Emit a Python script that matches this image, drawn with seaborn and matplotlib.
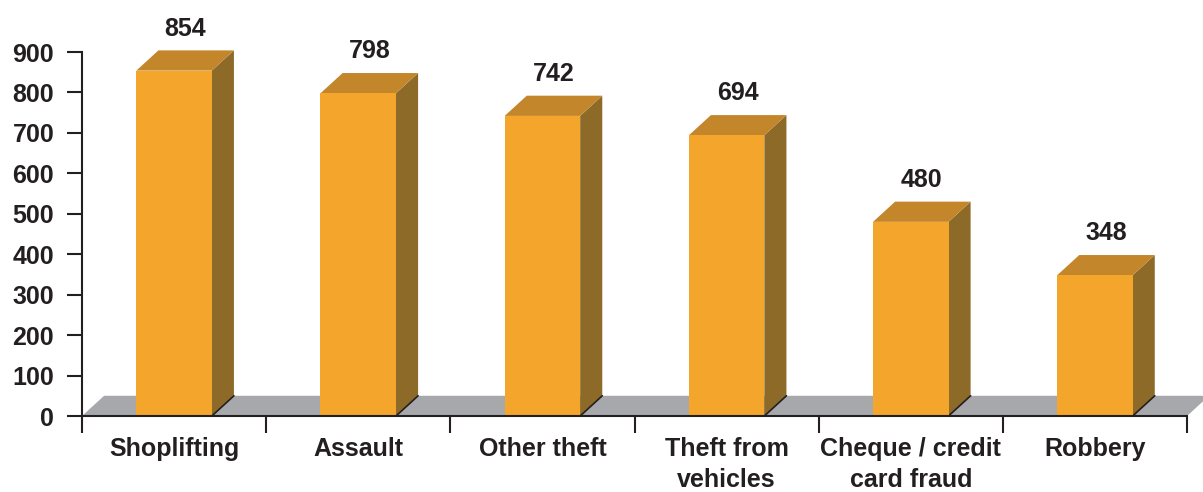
import matplotlib
matplotlib.use("Agg")
import matplotlib.pyplot as plt
from matplotlib.patches import Polygon
import seaborn as sns

categories = ["Shoplifting", "Assault", "Other theft", "Theft from\nvehicles",
              "Cheque / credit\ncard fraud", "Robbery"]
values = [854, 798, 742, 694, 480, 348]
yticks = [0, 100, 200, 300, 400, 500, 600, 700, 800, 900]

front_col = "#F4A52B"
top_col = "#C4862B"
side_col = "#8E6A28"
floor_col = "#A7A8AC"
text_col = "#231F20"

sns.set_style("white")
plt.rcParams["font.family"] = ["Liberation Sans", "DejaVu Sans"]
plt.rcParams["font.weight"] = "bold"

fig = plt.figure(figsize=(12.03, 4.92), dpi=100)
ax = fig.add_axes([82 / 1203, 1 - 416 / 492, (1187 - 82) / 1203, (416 - 52) / 492])

sns.barplot(x=categories, y=values, color=front_col, saturation=1, width=0.41,
            ax=ax, zorder=3, linewidth=0)

ax.set_xlim(-0.5, len(categories) - 0.5)
ax.set_ylim(0, 900)

# depth of the fake 3d effect (data units)
dx = 0.12
dy = 50

# floor
floor = Polygon([(-0.5, 0), (len(categories) - 0.5, 0),
                 (len(categories) - 0.5 + dx, dy), (-0.5 + dx, dy)],
                closed=True, facecolor=floor_col, edgecolor="none", zorder=1, clip_on=False)
ax.add_patch(floor)

for p, v in zip(ax.patches[:len(values)], values):
    x0 = p.get_x()
    w = p.get_width()
    h = p.get_height()
    x1 = x0 + w
    side = Polygon([(x1, 0), (x1 + dx, dy), (x1 + dx, h + dy), (x1, h)],
                   closed=True, facecolor=side_col, edgecolor="none", zorder=2.5, clip_on=False)
    top = Polygon([(x0, h), (x1, h), (x1 + dx, h + dy), (x0 + dx, h + dy)],
                  closed=True, facecolor=top_col, edgecolor="none", zorder=2.5, clip_on=False)
    ax.add_patch(side)
    ax.add_patch(top)
    ax.plot([x1, x1 + dx], [0, dy], color=text_col, lw=1.2, zorder=2.6, clip_on=False)
    ax.annotate(f"{v}", xy=(x0 + w / 2 + dx / 2, h + dy), xytext=(0, 7),
                textcoords="offset points", ha="center", va="bottom",
                fontsize=18, fontweight="bold", color=text_col, annotation_clip=False)

# axes styling
for s in ["top", "right"]:
    ax.spines[s].set_visible(False)
ax.spines["left"].set_color(text_col)
ax.spines["bottom"].set_color(text_col)
ax.spines["left"].set_linewidth(1.5)
ax.spines["bottom"].set_linewidth(1.5)
ax.spines["bottom"].set_zorder(4)

ax.set_yticks(yticks)
ax.set_yticklabels([str(t) for t in yticks], fontsize=18, fontweight="bold", color=text_col)
ax.tick_params(axis="y", direction="out", length=11, width=1.5, color=text_col, pad=9, left=True)

# x ticks between categories, labels at centers
ax.set_xticks([i - 0.5 for i in range(len(categories) + 1)])
ax.set_xticklabels([])
ax.set_xticks(range(len(categories)), minor=True)
ax.set_xticklabels(categories, minor=True, fontsize=18, fontweight="bold",
                   color=text_col, linespacing=1.4)
ax.tick_params(axis="x", which="major", direction="out", length=12, width=1.5,
               color=text_col, bottom=True)
ax.tick_params(axis="x", which="minor", length=0, pad=15)

ax.set_xlabel("")
ax.set_ylabel("")

plt.savefig("out.png", dpi=100)
